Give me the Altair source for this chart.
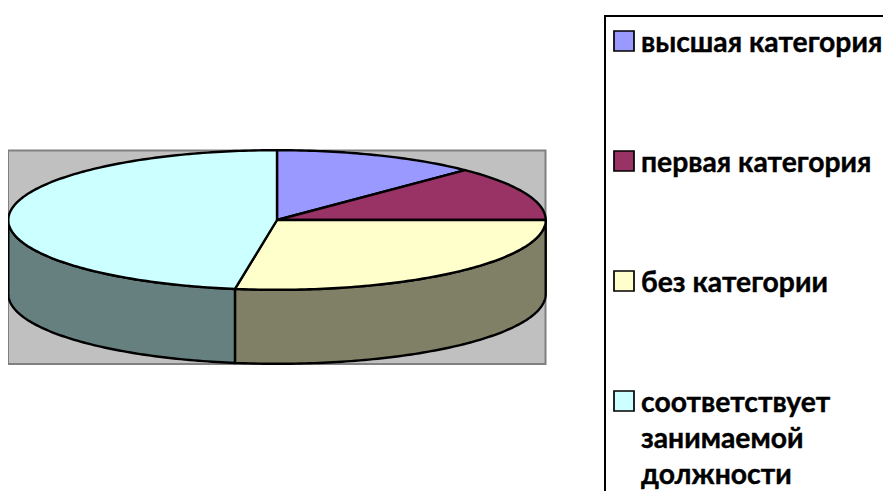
import math
import altair as alt
import pandas as pd

CATEGORIES = ["высшая категория", "первая категория", "без категории", "соответствует занимаемой должности"]
LEGEND_LINES = [["высшая категория"], ["первая категория"], ["без категории"], ["соответствует", "занимаемой", "должности"]]
SHARES = [12.35, 12.65, 27.5, 47.5]
TOP_COLORS = ["#9999FF", "#993366", "#FFFFCC", "#CCFFFF"]
SIDE_COLORS = ["#4C4C80", "#4C1933", "#808066", "#668080"]

W, H = 875, 483
OFF = 8
CX, CY, RX, RY, DEPTH = 277 - OFF, 220 - OFF, 268.7, 69.8, 74
FONT = "Lato"

xs = alt.Scale(domain=[0, W], range=[0, W], nice=False, zero=False)
ys = alt.Scale(domain=[0, H], range=[0, H], nice=False, zero=False)
X = alt.X("x:Q", scale=xs, axis=None)
Y = alt.Y("y:Q", scale=ys, axis=None)


def pt(deg, dy=0):
    t = math.radians(deg)
    return CX + RX * math.sin(t), CY - RY * math.cos(t) + dy


def arc(a, b, dy=0):
    n = max(2, int(abs(b - a)) + 1)
    return [pt(a + (b - a) * i / (n - 1), dy) for i in range(n)]


def poly(points, fill, sw=2.4):
    df = pd.DataFrame(points, columns=["x", "y"])
    df["i"] = range(len(df))
    return alt.Chart(df).mark_line(
        interpolate="linear-closed", fill=fill, stroke="black", strokeWidth=sw, strokeJoin="round", clip=False
    ).encode(x=X, y=Y, order=alt.Order("i:Q"))


def box(x0, y0, x1, y1, fill, stroke, sw):
    df = pd.DataFrame([{"x": x0, "y": y0, "x2": x1, "y2": y1}])
    return alt.Chart(df).mark_rect(fill=fill, stroke=stroke, strokeWidth=sw).encode(
        x=X, y=Y, x2="x2:Q", y2="y2:Q"
    )


layers = [box(8 - OFF, 150.5 - OFF, 545.5 - OFF, 364 - OFF, "#C0C0C0", "#808080", 2)]

# slice boundaries (degrees clockwise from the top) come from the shares
edges = [0.0]
for s in SHARES:
    edges.append(edges[-1] + s * 3.6)

# visible side walls: the front half of the disc (90..270 degrees)
for i in range(4):
    a, b = max(edges[i], 90), min(edges[i + 1], 270)
    if b > a:
        layers.append(poly(arc(a, b) + arc(b, a, DEPTH), SIDE_COLORS[i]))

# top faces
for i in range(4):
    layers.append(poly([(CX, CY)] + arc(edges[i], edges[i + 1]), TOP_COLORS[i]))

# legend
layers.append(box(605 - OFF, 16 - OFF, 960, 560, "white", "black", 2))
sw_y = [41, 161, 281, 401]
base = [52, 172, 292, 412]
for i in range(4):
    layers.append(
        alt.Chart(pd.DataFrame([{"x": 624 - OFF, "y": sw_y[i] - OFF}]))
        .mark_square(size=400, fill=TOP_COLORS[i], stroke="black", strokeWidth=1.7, opacity=1)
        .encode(x=X, y=Y)
    )
    rows = [{"x": 641 - OFF, "y": base[i] - OFF + 36 * k, "t": t} for k, t in enumerate(LEGEND_LINES[i])]
    layers.append(
        alt.Chart(pd.DataFrame(rows))
        .mark_text(font=FONT, fontWeight="bold", fontSize=28.3, align="left", baseline="alphabetic",
                   color="black", stroke="black", strokeWidth=0.4)
        .encode(x=X, y=Y, text="t:N")
    )

chart = (
    alt.layer(*layers)
    .properties(width=W, height=H, padding=0, autosize=alt.AutoSizeParams(type="none"), background="white")
    .configure_view(stroke=None)
)
chart.save("out.html", embed_options={"renderer": "svg", "actions": False})
